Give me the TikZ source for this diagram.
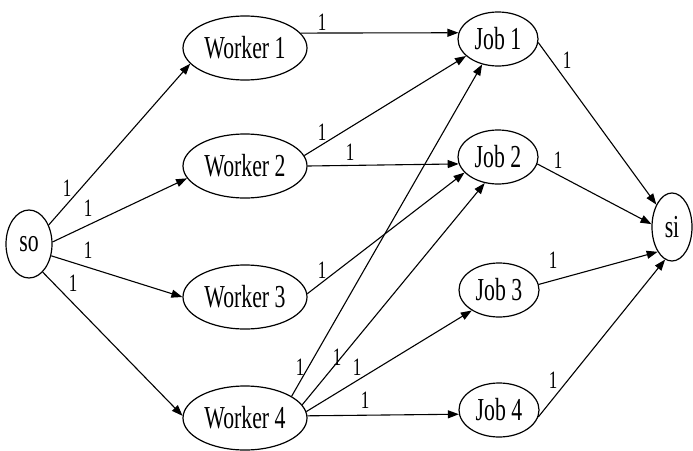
\documentclass[tikz,border=0pt]{standalone}
\usepackage{fontspec}
\newfontfamily\netfont[FakeStretch=0.68]{Liberation Serif}
\usetikzlibrary{shapes.geometric,arrows.meta}

\begin{document}
\begin{tikzpicture}[x=1pt,y=-1pt,
  vert/.style={draw,ellipse,line width=1.2pt,inner sep=0pt,
    font=\netfont\fontsize{32}{36}\selectfont},
  worker/.style={vert,minimum width=124pt,minimum height=64pt},
  job/.style={vert,minimum width=80pt,minimum height=54pt},
  caplbl/.style={inner sep=0pt,font=\netfont\fontsize{25}{28}\selectfont},
  arc/.style={line width=1.1pt,-{Triangle[length=11pt,width=8pt]}}]
  \useasboundingbox (0,0) rectangle (693,450);
  % source and sink
  \node[vert,minimum width=46pt,minimum height=68pt] (so) at (29,244) {so};
  \node[vert,minimum width=40pt,minimum height=68pt] (si) at (672,227) {si};
  % workers and jobs
  \node[worker] (w1) at (245,48)  {Worker 1};
  \node[worker] (w2) at (245,166) {Worker 2};
  \node[worker] (w3) at (245,297) {Worker 3};
  \node[worker] (w4) at (245,418) {Worker 4};
  \node[job] (j1) at (498,39)  {Job 1};
  \node[job] (j2) at (498,157) {Job 2};
  \node[job] (j3) at (499,290) {Job 3};
  \node[job] (j4) at (499,410) {Job 4};

  \draw[arc] (so.44)  -- (w1.196);
  \draw[arc] (so.5)   -- (w2.192);
  \draw[arc] (so.332) -- (w3.west);
  \draw[arc] (so.296) -- (w4.178);
  \draw[arc] (w1.15)  -- (j1.171);
  \draw[arc] (w2.10)  -- (j1.208);
  \draw[arc] (w2.east) -- (j2.190);
  \draw[arc] (w3.3)   -- (j2.205);
  \draw[arc] (w4.25)  -- (j1.238);
  \draw[arc] (w4.13)  -- (j2.243);
  \draw[arc] (w4.6)   -- (j3.217);
  \draw[arc] (w4.2)   -- (j4.186);
  \draw[arc] (j1.355) -- (si.125);
  \draw[arc] (j2.350) -- (si.172);
  \draw[arc] (j3.8)   -- (si.240);
  \draw[arc] (j4.350) -- (si.258);

  % capacities
  \node[caplbl] (c1)  at (67,188)  {1};
  \node[caplbl] (c2)  at (88,208)  {1};
  \node[caplbl] (c3)  at (88,250)  {1};
  \node[caplbl] (c4)  at (73,283)  {1};
  \node[caplbl] (c5)  at (322,22)  {1};
  \node[caplbl] (c6)  at (322,132) {1};
  \node[caplbl] (c7)  at (350,152) {1};
  \node[caplbl] (c8)  at (322,270) {1};
  \node[caplbl] (c9)  at (300,367) {1};
  \node[caplbl] (c10) at (337,357) {1};
  \node[caplbl] (c11) at (357,367) {1};
  \node[caplbl] (c12) at (365,400) {1};
  \node[caplbl] (c13) at (567,60)  {1};
  \node[caplbl] (c14) at (558,160) {1};
  \node[caplbl] (c15) at (553,260) {1};
  \node[caplbl] (c16) at (553,380) {1};
\end{tikzpicture}
\end{document}
